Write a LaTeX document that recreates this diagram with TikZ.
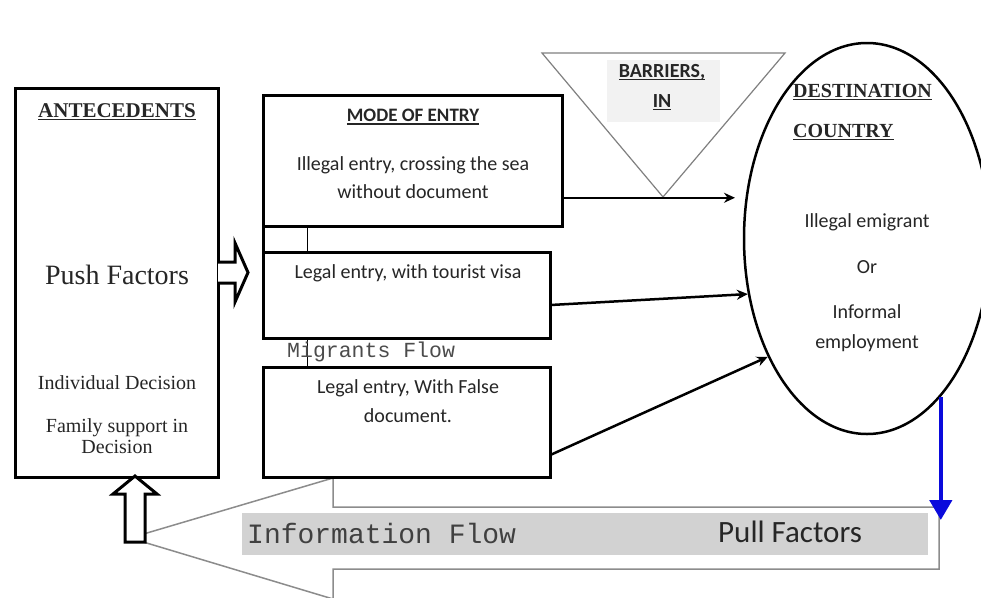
\documentclass[tikz,border=0pt]{standalone}
\usepackage{fontspec}
\setmainfont{Liberation Serif}
\newfontfamily\calfont{Carlito}
\newfontfamily\crfont{Liberation Mono}
\usetikzlibrary{shapes.geometric,arrows.meta,calc}
\newcommand\ulin[1]{\setbox0\hbox{#1}\rlap{\rule[-3pt]{\wd0}{1.4pt}}\box0}
\begin{document}
\begin{tikzpicture}[x=1pt,y=-1pt,
  box/.style={draw, line width=3pt, rectangle, inner sep=0pt, outer sep=0pt, anchor=north west},
  conn/.style={line width=2.5pt, -{Stealth[length=11pt,width=10pt]}},
  hollow/.style={draw, line width=3pt, fill=white, line join=miter},
  thinln/.style={line width=1pt},
  grayln/.style={draw=black!45, line width=1.5pt, line join=miter},
  txt/.style={inner sep=0pt, text=black!85, align=center},
  serif20/.style={font=\fontsize{20}{21}\selectfont},
  cal20/.style={font=\calfont\fontsize{20}{28.5}\selectfont},
]
\useasboundingbox (0,0) rectangle (981,597);
\fill[white] (0,0) rectangle (981,597);

% bottom grey block arrow (information flow)
\draw[grayln] (333,478) -- (333,507) -- (939,507) -- (939,569) -- (333,569) -- (333,599) -- (130,538) -- cycle;
\fill[gray!35] (242,513) rectangle (928,555);

% boxes
\node[box, minimum width=203pt, minimum height=389pt] (ante) at (15,88) {};
\node[box, minimum width=299pt, minimum height=131pt] (m1) at (263,95) {};
\node[box, minimum width=287pt, minimum height=86pt] (m2) at (263,252) {};
\node[box, minimum width=287pt, minimum height=110pt] (m3) at (263,367) {};
\draw[line width=3pt] (m1.south west) -- (m2.north west);
\coordinate (t1) at (307,227);
\draw[thinln] (t1 |- m1.south) -- (t1 |- m2.north);
\draw[thinln] (t1 |- m2.south) -- (t1 |- m3.north);

% barrier triangle
\draw[draw=black!50, line width=1.2pt, line join=miter] (542,53) -- (785,53) -- (663,197) -- cycle;
\fill[gray!10] (607,60) rectangle (720,122);

% destination ellipse
\node[draw, ellipse, line width=2.5pt, minimum width=246pt, minimum height=391pt, inner sep=0pt] (dest) at (867,238.5) {};

% connectors
\coordinate (a1e) at (735,198);
\draw[conn] (m1.-14) -- (m1.-14 -| a1e);
\draw[conn] (m2.-4) -- (dest.205.4);
\draw[conn] (m3.-13) -- (dest.230.2);
\coordinate (pullend) at (940,520);
\draw[line width=4.5pt, draw={rgb,255:red,10;green,10;blue,220}, -{Triangle[length=20pt,width=22pt]}] (dest.-65.4) -- (dest.-65.4 |- pullend);

% hollow arrows
\draw[hollow] (218,262) -- (235,262) -- (235,243) -- (248,272.5) -- (235,302) -- (235,283) -- (218,283);
\draw[hollow] (125,542) -- (125,494) -- (113,494) -- (135,476) -- (157,494) -- (145,494) -- (145,542) -- cycle;

% texts antecedents
\node[txt, font=\bfseries\fontsize{21}{24}\selectfont] (tante) at (117,112) {\ulin{ANTECEDENTS}};
\node[txt, font=\fontsize{28}{30}\selectfont] (tpush) at (117,275) {Push Factors};
\node[txt, serif20] (tind) at (117,383) {Individual Decision};
\node[txt, serif20] (tfam) at (117,436) {Family support in\\Decision};

% mode of entry texts
\node[txt, font=\calfont\bfseries\fontsize{19}{22}\selectfont] (tmode) at (413,117) {\ulin{MODE OF ENTRY}};
\node[txt, cal20] (till) at (413,177.5) {Illegal entry, crossing the sea\\without document};
\node[txt, cal20] (ttour) at (408,273) {Legal entry, with tourist visa};
\node[txt, cal20] (tfalse) at (408,401) {Legal entry, With False\\document.};
\node[txt, anchor=west, text=black!70, font=\crfont\fontsize{21.5}{24}\selectfont] (tmig) at (287,352) {Migrants Flow};

% barriers
\node[txt, font=\calfont\bfseries\fontsize{20}{30}\selectfont] (tbar) at (662,87) {\ulin{BARRIERS,}\\\ulin{IN}};

% destination texts
\node[txt, anchor=west, font=\bfseries\fontsize{20}{24}\selectfont] (tdest) at (793,92) {\ulin{DESTINATION}};
\node[txt, anchor=west, font=\bfseries\fontsize{20}{24}\selectfont] (tcoun) at (793,132) {\ulin{COUNTRY}};
\node[txt, cal20] (temi) at (867,222) {Illegal emigrant};
\node[txt, cal20] (tor) at (867,267) {Or};
\node[txt, font=\calfont\fontsize{20}{30}\selectfont] (tinf) at (867,328) {Informal\\employment};

% bottom band texts
\node[txt, anchor=west, text=black!75, font=\crfont\fontsize{28}{30}\selectfont] (tinfo) at (247,533) {Information Flow};
\node[txt, anchor=west, font=\calfont\fontsize{31}{34}\selectfont] (tpull) at (718,532) {Pull Factors};
\end{tikzpicture}
\end{document}
